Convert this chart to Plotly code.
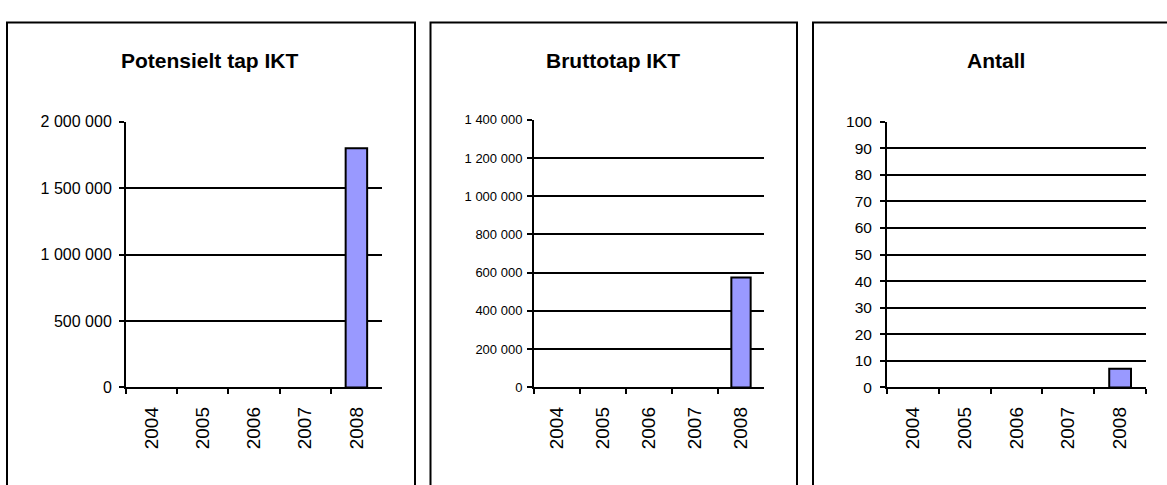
import plotly.graph_objects as go

W, H = 1167, 485

years = ["2004", "2005", "2006", "2007", "2008"]
potensielt_tap = [None, None, None, None, 1800000]
bruttotap = [None, None, None, None, 575000]
antall = [None, None, None, None, 7]

titles = ["Potensielt tap IKT", "Bruttotap IKT", "Antall"]
y_max = [2000000, 1400000, 100]
y_dtick = [500000, 200000, 10]
series = [potensielt_tap, bruttotap, antall]

# pixel layout (left, right, top, bottom) of each plot area
plot_px = [(126, 382, 117, 393), (534, 764, 115, 393), (887, 1146, 117, 393)]
panel_px = [(7, 415), (430.5, 797), (813, 1185)]
title_x = [210, 613, 996]
ytick_size = [16, 13, 15.5]
ytick_gap = [4, 2, 5]

BAR = "#9999FF"
FONT = "Arial, Liberation Sans, sans-serif"

fig = go.Figure()
shapes = []
annotations = []
for i in range(3):
    ax = "" if i == 0 else str(i + 1)
    l, r, t, b = plot_px[i]
    fig.add_trace(go.Bar(
        x=years, y=series[i], xaxis="x" + ax, yaxis="y" + ax,
        marker=dict(color=BAR, line=dict(color="black", width=2)),
        showlegend=False, hoverinfo="x+y",
    ))
    fig.layout["xaxis" + ax] = dict(
        domain=[l / W, r / W], anchor="y" + ax, type="category",
        tickson="boundaries", ticks="outside", ticklen=5, tickwidth=2,
        tickcolor="black", showline=True, linecolor="black", linewidth=2,
        showgrid=False, tickangle=-90, ticklabelstandoff=10,
        tickfont=dict(family=FONT, size=19, color="black"), fixedrange=True,
    )
    fig.layout["yaxis" + ax] = dict(
        domain=[1 - b / H, 1 - t / H], anchor="x" + ax,
        range=[0, y_max[i]], dtick=y_dtick[i], tick0=0, tickformat=",d",
        ticks="outside", ticklen=5, tickwidth=2, tickcolor="black",
        showline=True, linecolor="black", linewidth=2,
        showgrid=True, gridcolor="black", gridwidth=2, zeroline=False,
        ticklabelstandoff=ytick_gap[i],
        tickfont=dict(family=FONT, size=ytick_size[i], color="black"),
        fixedrange=True,
    )
    pl, pr = panel_px[i]
    shapes.append(dict(type="rect", xref="paper", yref="paper",
                       x0=pl / W, x1=pr / W, y0=-0.1, y1=1 - 14 / H,
                       line=dict(color="black", width=2), layer="below"))
    annotations.append(dict(text="<b>" + titles[i] + "</b>", xref="paper", yref="paper",
                            x=title_x[i] / W, y=1 - 53 / H,
                            xanchor="center", yanchor="middle",
                            showarrow=False, font=dict(family=FONT, size=21, color="black")))

fig.update_layout(
    width=W, height=H, margin=dict(l=0, r=0, t=0, b=0),
    paper_bgcolor="white", plot_bgcolor="white",
    separators=", ", bargap=0.58,
    shapes=shapes, annotations=annotations,
)
post = (
    "document.documentElement.style.margin='0';"
    "document.body.style.margin='0';document.body.style.overflow='hidden';"
    "var gd=document.getElementById('{plot_id}');"
    "gd.style.position='fixed';gd.style.left='0px';gd.style.top='0px';"
)
fig.write_html("out.html", config={"displayModeBar": False}, post_script=post)
